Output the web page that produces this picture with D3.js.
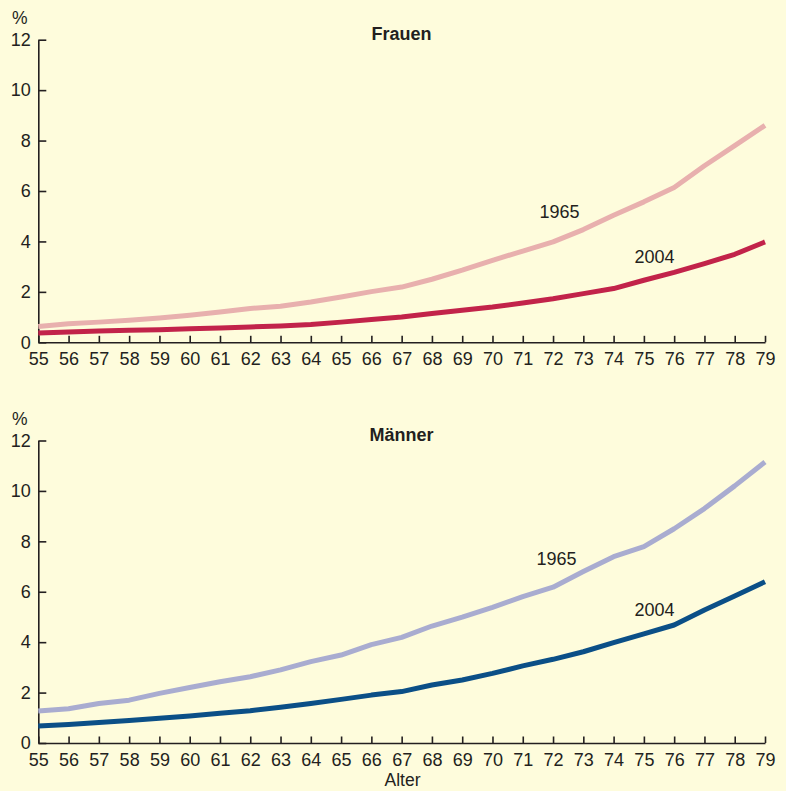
<!DOCTYPE html>
<html><head><meta charset="utf-8">
<script src="https://cdn.jsdelivr.net/npm/d3@7"></script>
<style>
html,body{margin:0;padding:0;background:#fefcdc;}
svg{display:block;}
text{font-family:"Liberation Sans",Arial,sans-serif;fill:#231f20;}
</style></head>
<body>
<svg id="chart" width="786" height="791"></svg>
<script>
const ages = d3.range(55, 80);
const yTicks = [0, 2, 4, 6, 8, 10, 12];
const frauen1965 = [0.63,0.74,0.80,0.87,0.96,1.07,1.20,1.34,1.43,1.60,1.80,2.01,2.19,2.50,2.86,3.25,3.62,3.98,4.47,5.04,5.57,6.14,7.00,7.80,8.60];
const frauen2004 = [0.37,0.41,0.45,0.48,0.50,0.54,0.57,0.61,0.65,0.71,0.80,0.90,1.00,1.14,1.27,1.40,1.56,1.73,1.93,2.13,2.46,2.77,3.12,3.49,3.98];
const maenner1965 = [1.27,1.36,1.57,1.70,1.97,2.20,2.43,2.63,2.90,3.23,3.49,3.90,4.19,4.64,4.99,5.38,5.81,6.18,6.80,7.39,7.79,8.50,9.30,10.20,11.15];
const maenner2004 = [0.67,0.73,0.81,0.89,0.98,1.07,1.18,1.28,1.42,1.57,1.73,1.90,2.04,2.30,2.50,2.76,3.06,3.32,3.62,3.98,4.33,4.68,5.28,5.83,6.40];

const svg = d3.select("#chart");
const x = d3.scaleLinear().domain([55, 79]).range([38.3, 765]);

const panels = [
  {title: "Frauen", top: 39.7, bottom: 342.3, s1: frauen1965, s2: frauen2004,
   c1: "#e8b0ae", c2: "#c2234a", lab1: [539.5, 217.5], lab2: [634.5, 263]},
  {title: "Männer", top: 440.5, bottom: 743, s1: maenner1965, s2: maenner2004,
   c1: "#a9acd0", c2: "#0b4f87", lab1: [536.5, 565], lab2: [634.5, 616]}
];

panels.forEach(p => {
  const y = d3.scaleLinear().domain([0, 12]).range([p.bottom, p.top]);
  const g = svg.append("g");

  const xa = g.append("g").attr("transform", `translate(0,${p.bottom})`)
    .call(d3.axisBottom(x).tickValues(ages).tickFormat(d3.format("d"))
      .tickSizeInner(-6.5).tickSizeOuter(0).tickPadding(10));
  const ya = g.append("g").attr("transform", `translate(${x.range()[0]},0)`)
    .call(d3.axisLeft(y).tickValues(yTicks).tickSizeInner(-8).tickSizeOuter(0).tickPadding(7.5));
  [xa, ya].forEach(a => {
    a.selectAll("path,line").attr("stroke", "#231f20").attr("stroke-width", 1.6);
    a.selectAll("text").attr("font-size", 18).attr("fill", "#231f20")
      .style("font-family", '"Liberation Sans",Arial,sans-serif');
  });

  g.append("text").attr("x", 12).attr("y", p.top - 16).attr("font-size", 17.5).text("%");
  g.append("text").attr("x", 401.5).attr("y", p.top).attr("text-anchor", "middle")
    .attr("font-size", 18).attr("font-weight", "bold").text(p.title);

  const line = d3.line().x((d, i) => x(ages[i])).y(d => y(d));
  g.append("path").datum(p.s1).attr("d", line).attr("fill", "none")
    .attr("stroke", p.c1).attr("stroke-width", 5).attr("stroke-linejoin", "round");
  g.append("path").datum(p.s2).attr("d", line).attr("fill", "none")
    .attr("stroke", p.c2).attr("stroke-width", 5).attr("stroke-linejoin", "round");

  g.append("text").attr("x", p.lab1[0]).attr("y", p.lab1[1]).attr("font-size", 18).text("1965");
  g.append("text").attr("x", p.lab2[0]).attr("y", p.lab2[1]).attr("font-size", 18).text("2004");
});

svg.append("text").attr("x", 402.5).attr("y", 786).attr("text-anchor", "middle")
  .attr("font-size", 17.5).text("Alter");
</script>
</body></html>
